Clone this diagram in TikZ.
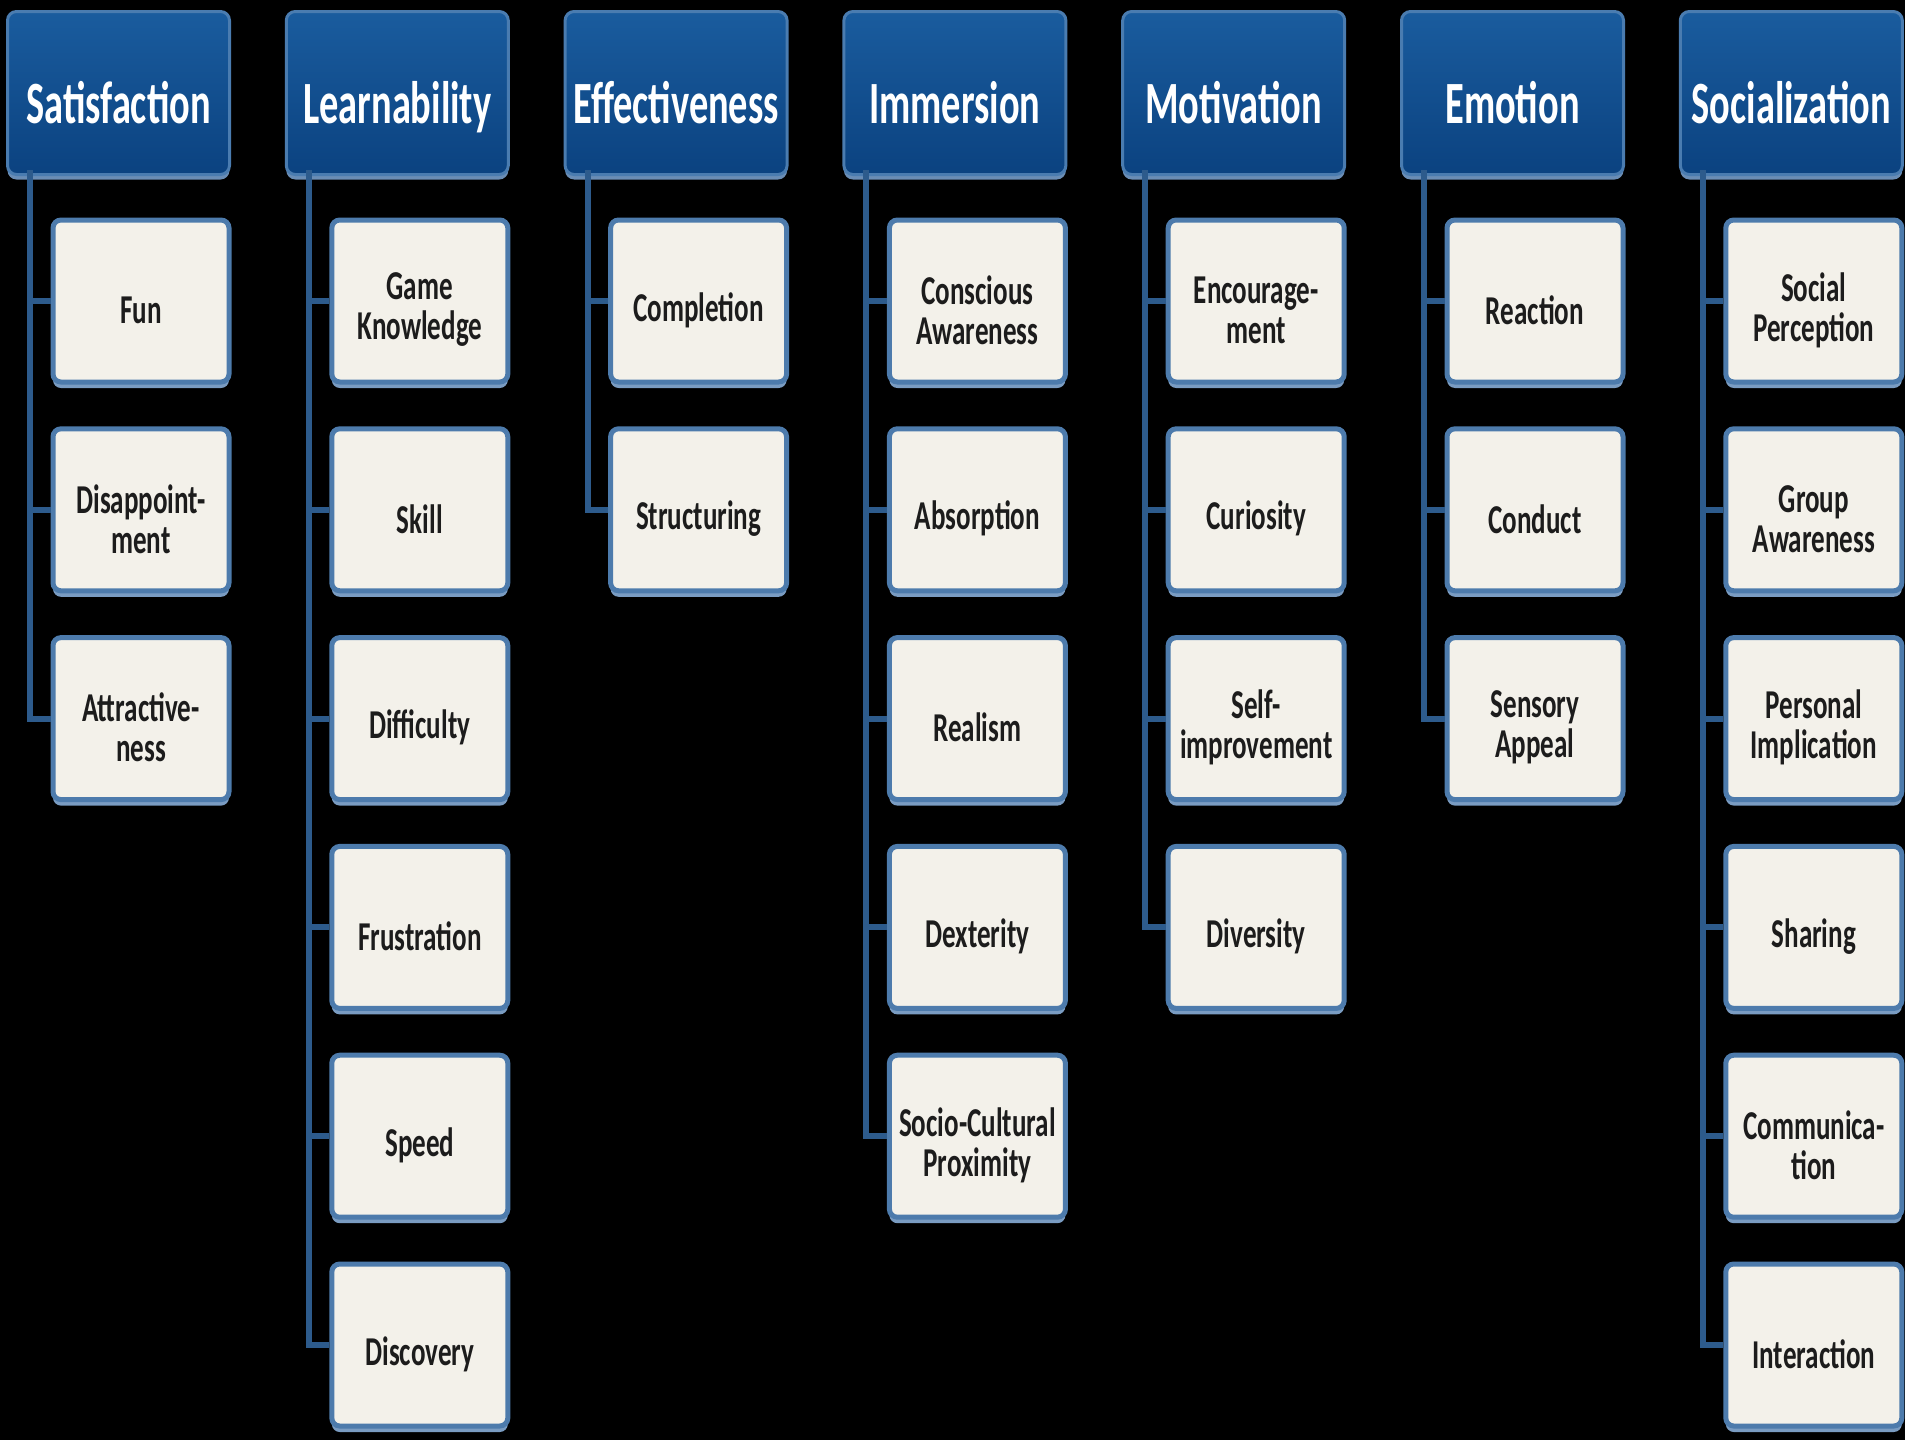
\documentclass[tikz,border=0pt]{standalone}
\usepackage{fontspec}
\setmainfont{Carlito}
\newfontfamily\hdrfont[FakeStretch=0.64]{Carlito}
\newfontfamily\kidfont[FakeStretch=0.66]{Carlito}
\usetikzlibrary{shadows}
\definecolor{hdrtop}{HTML}{1A5C9E}
\definecolor{hdrbot}{HTML}{0B4280}
\definecolor{hdrborder}{HTML}{4A7CB0}
\definecolor{hdrshadow}{HTML}{6A8DB5}
\definecolor{kidfill}{HTML}{F3F1EA}
\definecolor{kidborder}{HTML}{4D7BAC}
\definecolor{kidshadow}{HTML}{7A9CC2}
\definecolor{connc}{HTML}{2D5B8C}
\definecolor{kidtextc}{HTML}{1C1C1C}
\tikzset{
  hdr/.style={draw=hdrborder, line width=3pt, rounded corners=9pt,
    top color=hdrtop, bottom color=hdrbot, minimum width=222pt,
    minimum height=163pt, inner sep=0pt,
    drop shadow={shadow xshift=0pt, shadow yshift=-5pt, fill=hdrshadow, opacity=1}},
  hdrtext/.style={text=white, font=\hdrfont\bfseries\fontsize{60}{60}\selectfont,
    inner sep=0pt, text height=45pt, text depth=12pt},
  kid/.style={draw=kidborder, line width=5pt, rounded corners=8pt, fill=kidfill,
    minimum width=176pt, minimum height=162pt, inner sep=0pt,
    drop shadow={shadow xshift=0pt, shadow yshift=-6pt, fill=kidshadow, opacity=1}},
  kidtext/.style={text=kidtextc, font=\kidfont\bfseries\fontsize{41}{40}\selectfont, align=center, inner sep=0pt},
  conn/.style={draw=connc, line width=6pt}
}
\newcommand\hdrbox[3]{%
  \node[hdr, label={[hdrtext,yshift=-13.5pt]center:{#3}}] (#2) at ({118.5+278.8*#1},93) {};
  \coordinate (t#1) at ({30+278.8*#1},170);}
\newcommand\kid[4]{%
  \node[kid, label={[kidtext,yshift=-9pt]center:{#4}}] (#3) at ({141+278.8*#1},{301+208.8*#2}) {};
  \draw[conn] (#3.west -| t#1) -- (#3.west);}
\begin{document}
\begin{tikzpicture}[x=1pt,y=-1pt]
\fill[black] (0,0) rectangle (1905,1440);
\useasboundingbox (0,0) rectangle (1905,1440);
% headers
\hdrbox{0}{h0}{Satisfaction}
\hdrbox{1}{h1}{Learnability}
\hdrbox{2}{h2}{Effectiveness}
\hdrbox{3}{h3}{Immersion}
\hdrbox{4}{h4}{Motivation}
\hdrbox{5}{h5}{Emotion}
\hdrbox{6}{h6}{Socialization}
% column 0
\kid{0}{0}{c00}{Fun}
\kid{0}{1}{c01}{Disappoint-\\ment}
\kid{0}{2}{c02}{Attractive-\\ness}
% column 1
\kid{1}{0}{c10}{Game\\Knowledge}
\kid{1}{1}{c11}{Skill}
\kid{1}{2}{c12}{Difficulty}
\kid{1}{3}{c13}{Frustration}
\kid{1}{4}{c14}{Speed}
\kid{1}{5}{c15}{Discovery}
% column 2
\kid{2}{0}{c20}{Completion}
\kid{2}{1}{c21}{Structuring}
% column 3
\kid{3}{0}{c30}{Conscious\\Awareness}
\kid{3}{1}{c31}{Absorption}
\kid{3}{2}{c32}{Realism}
\kid{3}{3}{c33}{Dexterity}
\kid{3}{4}{c34}{Socio-Cultural\\Proximity}
% column 4
\kid{4}{0}{c40}{Encourage-\\ment}
\kid{4}{1}{c41}{Curiosity}
\kid{4}{2}{c42}{Self-\\improvement}
\kid{4}{3}{c43}{Diversity}
% column 5
\kid{5}{0}{c50}{Reaction}
\kid{5}{1}{c51}{Conduct}
\kid{5}{2}{c52}{Sensory\\Appeal}
% column 6
\kid{6}{0}{c60}{Social\\Perception}
\kid{6}{1}{c61}{Group\\Awareness}
\kid{6}{2}{c62}{Personal\\Implication}
\kid{6}{3}{c63}{Sharing}
\kid{6}{4}{c64}{Communica-\\tion}
\kid{6}{5}{c65}{Interaction}
% trunks
\draw[conn] (t0) |- (c02.west);
\draw[conn] (t1) |- (c15.west);
\draw[conn] (t2) |- (c21.west);
\draw[conn] (t3) |- (c34.west);
\draw[conn] (t4) |- (c43.west);
\draw[conn] (t5) |- (c52.west);
\draw[conn] (t6) |- (c65.west);
\end{tikzpicture}
\end{document}
